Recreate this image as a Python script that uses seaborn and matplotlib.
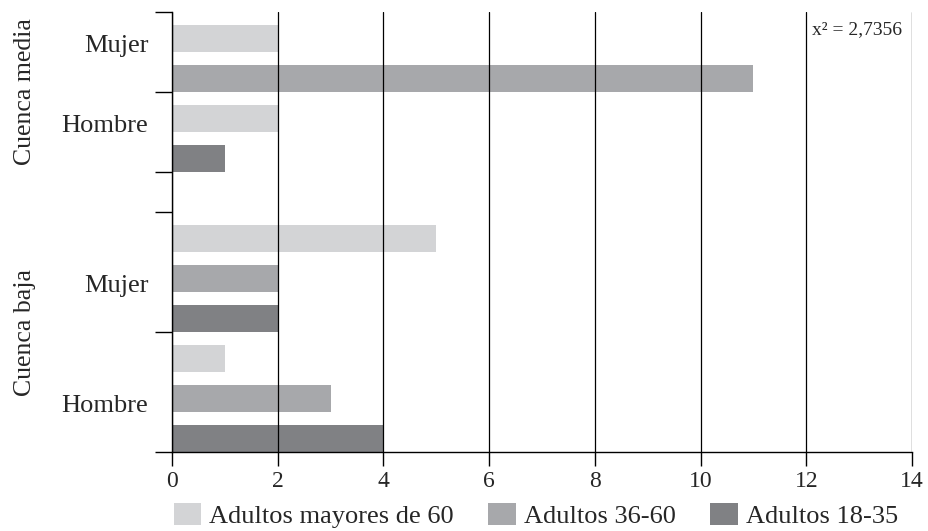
import numpy as np
import pandas as pd
import matplotlib
matplotlib.use("Agg")
import matplotlib.pyplot as plt
import matplotlib.transforms as mtransforms
from matplotlib.patches import Patch
import seaborn as sns

# Data (NaN = no bar shown for that age group)
groups = ["Cuenca media", "Cuenca media", "Cuenca baja", "Cuenca baja"]
sexes = ["Mujer", "Hombre", "Mujer", "Hombre"]
series = ["Adultos mayores de 60", "Adultos 36-60", "Adultos 18-35"]
mayores_60 = [2, 2, 5, 1]
adultos_36_60 = [11, np.nan, 2, 3]
adultos_18_35 = [np.nan, 1, 2, 4]
x_ticks = [0, 2, 4, 6, 8, 10, 12, 14]
chi2_text = "x² = 2,7356"

colors = ["#d3d4d6", "#a7a8ab", "#808184"]
values = [mayores_60, adultos_36_60, adultos_18_35]

# Build one row per bar, one slot per bar, an empty slot between groups
rows = []
bounds = [0]
label_pos = []
group_span = {}
slot = 0
prev = None
for i, (g, s) in enumerate(zip(groups, sexes)):
    if prev is not None and g != prev:
        slot += 1
        bounds.append(slot)
    start = slot
    present = [k for k in range(3) if not np.isnan(values[k][i])]
    for k in present:
        rows.append({"pos": slot + 0.66, "valor": values[k][i], "serie": series[k]})
        slot += 1
    bounds.append(slot)
    label_pos.append(start + (len(present) - 1) // 2 + 0.78)
    group_span.setdefault(g, [start, slot])
    group_span[g][1] = slot
    prev = g
df = pd.DataFrame(rows)

sns.set_style("white")
plt.rcParams["font.family"] = ["Liberation Serif", "DejaVu Serif"]

fig, ax = plt.subplots(figsize=(9.29, 5.31), dpi=100)
fig.subplots_adjust(left=172 / 929, right=912 / 929, top=1 - 12 / 531, bottom=1 - 452 / 531)

sns.barplot(data=df, x="valor", y="pos", hue="serie", hue_order=series,
            palette=colors, orient="y", native_scale=True, dodge=False,
            width=0.675, saturation=1, linewidth=0, legend=False, ax=ax)

ax.set_xlim(0, 14)
ax.set_ylim(slot, 0)
ax.set_xticks(x_ticks)
ax.set_xticklabels([str(t) for t in x_ticks], fontsize=17)
ax.set_yticks(bounds)
ax.set_yticklabels([""] * len(bounds))
ax.set_yticks(label_pos, minor=True)
ax.set_yticklabels(sexes, minor=True, fontsize=19)
ax.tick_params(axis="y", which="major", left=True, length=12, width=1, color="black")
ax.tick_params(axis="y", which="minor", left=True, length=0, pad=17)
ax.tick_params(axis="x", bottom=True, length=10, width=1, color="black", pad=4)
ax.set_xlabel("")
ax.set_ylabel("")

ax.xaxis.grid(True, color="black", linewidth=0.9)
ax.yaxis.grid(False)
ax.set_axisbelow(False)
for side in ["top", "right"]:
    ax.spines[side].set_visible(False)
for side in ["left", "bottom"]:
    ax.spines[side].set_color("black")
    ax.spines[side].set_linewidth(1)

# group labels
trans = mtransforms.blended_transform_factory(fig.transFigure, ax.transData)
for g, (a, b) in group_span.items():
    fig.text(25 / 929, (a + b) / 2, g, rotation=90, ha="center", va="center",
             fontsize=18.5, transform=trans)

ax.text(12.1, 0.45, chi2_text, fontsize=14, ha="left", va="center")

handles = [Patch(facecolor=c, edgecolor="none") for c in colors]
fig.legend(handles, series, loc="lower left", bbox_to_anchor=(171 / 929, 0.0),
           ncol=3, frameon=False, fontsize=19, handlelength=1.05, handleheight=0.9,
           handletextpad=0.3, columnspacing=1.3, borderaxespad=0, borderpad=0.1)

fig.savefig("out.png", dpi=100)
